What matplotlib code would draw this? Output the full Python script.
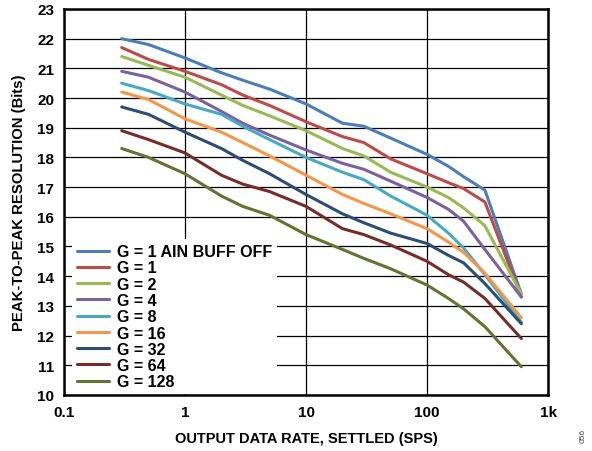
import matplotlib.pyplot as plt
from matplotlib.ticker import FixedLocator, NullLocator

plt.rcParams['font.family'] = ['Liberation Sans', 'DejaVu Sans']
plt.rcParams['font.weight'] = 'bold'

rate = [0.3, 0.5, 1, 2, 3, 5, 10, 20, 30, 50, 100, 150, 200, 300, 600]

g1_buff_off = [22.0, 21.8, 21.35, 20.85, 20.6, 20.3, 19.8, 19.15, 19.05, 18.65, 18.1, 17.7, 17.35, 16.9, 13.4]
g1 = [21.7, 21.3, 20.9, 20.45, 20.1, 19.75, 19.2, 18.7, 18.5, 17.95, 17.45, 17.15, 16.95, 16.5, 13.3]
g2 = [21.4, 21.1, 20.7, 20.1, 19.75, 19.4, 18.9, 18.3, 18.05, 17.5, 17.0, 16.65, 16.3, 15.7, 13.4]
g4 = [20.9, 20.7, 20.2, 19.55, 19.15, 18.75, 18.25, 17.8, 17.6, 17.2, 16.65, 16.25, 15.85, 14.9, 13.3]
g8 = [20.5, 20.25, 19.8, 19.45, 19.05, 18.6, 18.0, 17.5, 17.25, 16.7, 16.05, 15.45, 14.95, 14.05, 12.45]
g16 = [20.2, 19.95, 19.3, 18.85, 18.5, 18.05, 17.4, 16.75, 16.45, 16.1, 15.6, 15.15, 14.8, 14.1, 12.6]
g32 = [19.7, 19.45, 18.85, 18.3, 17.9, 17.45, 16.75, 16.1, 15.8, 15.45, 15.1, 14.7, 14.45, 13.75, 12.4]
g64 = [18.9, 18.6, 18.15, 17.4, 17.1, 16.85, 16.35, 15.6, 15.4, 15.05, 14.5, 14.05, 13.8, 13.25, 11.9]
g128 = [18.3, 18.0, 17.45, 16.7, 16.35, 16.05, 15.4, 14.9, 14.6, 14.25, 13.7, 13.25, 12.9, 12.3, 10.95]

series = [
    ('G = 1 AIN BUFF OFF', g1_buff_off, '#4A7EBB'),
    ('G = 1', g1, '#BE4B48'),
    ('G = 2', g2, '#98B954'),
    ('G = 4', g4, '#7D60A0'),
    ('G = 8', g8, '#46AAC5'),
    ('G = 16', g16, '#F79646'),
    ('G = 32', g32, '#2C4D75'),
    ('G = 64', g64, '#772C2A'),
    ('G = 128', g128, '#5F7530'),
]

xticks = [0.1, 1, 10, 100, 1000]
xlabels = ['0.1', '1', '10', '100', '1k']
yticks = list(range(10, 24))

fig = plt.figure(figsize=(5.92, 4.52), dpi=100)
ax = fig.add_axes([0.108, 0.124, 0.818, 0.854])

for label, vals, color in series:
    ax.plot(rate, vals, color=color, lw=2.2, label=label, solid_capstyle='round',
            solid_joinstyle='round')

ax.set_xscale('log')
ax.set_xlim(0.1, 1000)
ax.set_ylim(10, 23)
ax.xaxis.set_major_locator(FixedLocator(xticks))
ax.xaxis.set_minor_locator(NullLocator())
ax.set_xticks(xticks, xlabels)
ax.set_yticks(yticks)
ax.grid(True, color='black', lw=0.9)
ax.set_axisbelow(True)
ax.tick_params(length=0, labelsize=11, pad=7)
for s in ax.spines.values():
    s.set_linewidth(1.8)

ax.set_xlabel('OUTPUT DATA RATE, SETTLED (SPS)', fontsize=10.5, fontweight='bold', labelpad=9)
ax.set_ylabel('PEAK-TO-PEAK RESOLUTION (Bits)', fontsize=10.7, fontweight='bold', labelpad=8)

leg = ax.legend(loc='lower left', bbox_to_anchor=(0.015, 0.0), frameon=True, fancybox=False,
                framealpha=1, edgecolor='white', fontsize=11.5, handlelength=2.0,
                handletextpad=0.5, labelspacing=0.08, borderpad=0.3, borderaxespad=0.05)
leg.get_frame().set_linewidth(0)

fig.text(0.985, 0.02, '056', rotation=90, fontsize=6, fontweight='normal', color='#444444',
         ha='center', va='bottom')

fig.savefig('out.png', dpi=100)
